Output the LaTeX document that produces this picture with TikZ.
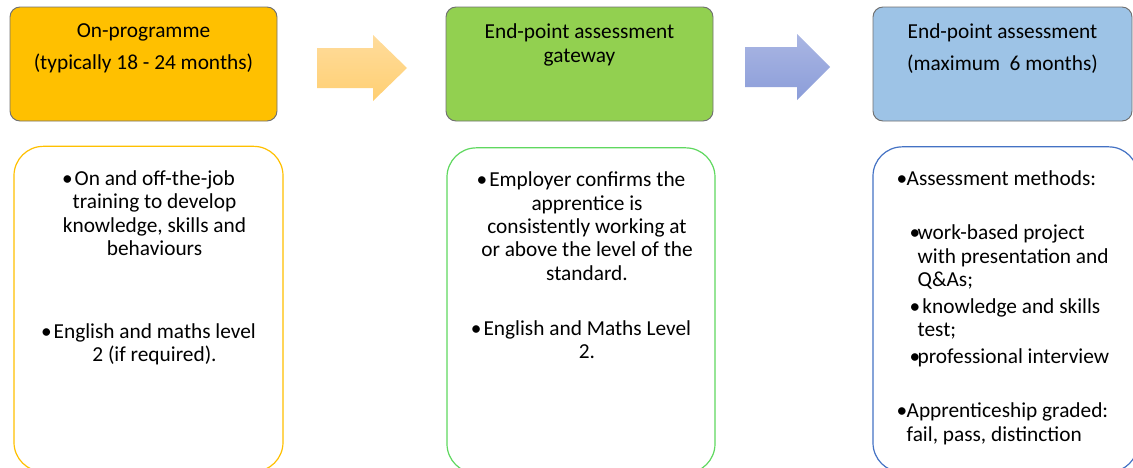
\documentclass[tikz,border=0pt]{standalone}
\usepackage{fontspec}
\setmainfont{Carlito}
\usetikzlibrary{positioning}
\definecolor{progfill}{HTML}{FFC000}
\definecolor{gatefill}{HTML}{92D050}
\definecolor{epafill}{HTML}{9DC3E6}
\definecolor{boxline}{HTML}{707070}
\definecolor{gateline}{HTML}{5FD85F}
\definecolor{epaline}{HTML}{4472C4}
\definecolor{arrowatop}{HTML}{FFDC9C}
\definecolor{arrowabot}{HTML}{FFCF72}
\definecolor{arrowbtop}{HTML}{AAB6E3}
\definecolor{arrowbbot}{HTML}{8B9DD9}
\newcommand{\blt}{\textbullet\hspace{1.5pt}}
\newcommand{\ind}{\hspace*{9pt}}
\newcommand{\mainblt}{\makebox[7.5pt][l]{\textbullet}}
\newcommand{\subblt}{\makebox[6pt][l]{\textbullet}}
\tikzset{
	stage/.style={rectangle,draw=boxline,line width=0.7pt,rounded corners=7.5pt,
		minimum height=85.5pt,inner sep=0pt},
	detail/.style={rectangle,line width=0.9pt,rounded corners=22pt,fill=white,
		minimum height=244pt,inner sep=0pt},
	stagetext/.style={inner sep=0pt,align=center,font=\fontsize{16}{18}\selectfont},
	detailtext/.style={inner sep=0pt,align=center,font=\fontsize{16}{17.5}\selectfont}
}

\begin{document}
\begin{tikzpicture}[x=0.75pt,y=-0.75pt]
	\useasboundingbox (0,0) rectangle (1133,468);
	\clip (0,0) rectangle (1133,468);
	
	\node[stage,fill=progfill,minimum width=200.25pt] (prog) at (143.5,64) {};
	\node[stage,fill=gatefill,minimum width=200.25pt] (gate) at (579.5,64) {};
	\node[stage,fill=epafill,minimum width=194.25pt] (epa) at (1002.5,64) {};
	
	\node[stagetext,below=12.8pt of prog.north] (progtitle) {On-programme\\[6pt](typically 18 - 24 months)};
	\node[stagetext,below=12.8pt of gate.north] (gatetitle) {End-point assessment\\gateway};
	\node[stagetext,below=12.8pt of epa.north] (epatitle) {End-point assessment\\[6pt](maximum\ \ 6 months)};
	
	\node[detail,draw=progfill,minimum width=201.75pt] (progdet) at (148.5,309) {};
	\node[detail,draw=gateline,minimum width=201pt] (gatedet) at (581,310.5) {};
	\node[detail,draw=epaline,minimum width=198.75pt] (epadet) at (1005.5,309.5) {};
	
	\node[detailtext,below=18.5pt of progdet.north] (progitems) {\blt On and off-the-job\\
		\ind training to develop\\ \ind knowledge, skills and\\ \ind behaviours\\[44.8pt]
		\blt English and maths level\\ \ind 2 (if required).};
	\node[detailtext,below=18.5pt of gatedet.north] (gateitems) {\blt Employer confirms the\\
		\ind apprentice is\\ \ind consistently working at\\ \ind or above the level of the\\
		\ind standard.\\[23.8pt] \blt English and Maths Level\\ \ind 2.};
	\node[detailtext,align=left,below right=18.5pt and 18pt of epadet.north west] (epaitems)
		{\mainblt Assessment methods:\\[23pt]
		\hspace*{9.75pt}\subblt work-based project\\
		\hspace*{15.75pt}with presentation and\\
		\hspace*{15.75pt}Q\&As;\\[2.5pt]
		\hspace*{9.75pt}\subblt\ knowledge and skills\\
		\hspace*{15.75pt}test;\\[2.5pt]
		\hspace*{9.75pt}\subblt professional interview\\[23.5pt]
		\mainblt Apprenticeship graded:\\
		\hspace*{7.5pt}fail, pass, distinction};
	
	% block arrows between the stages
	\shade[top color=arrowatop,bottom color=arrowabot]
		(317,48) -- (373,48) -- (373,35) -- (407,68) -- (373,101) -- (373,88) -- (317,88) -- cycle;
	\shade[top color=arrowbtop,bottom color=arrowbbot]
		(745,47) -- (797,47) -- (797,34) -- (830,67) -- (797,100) -- (797,87) -- (745,87) -- cycle;
\end{tikzpicture}
\end{document}
